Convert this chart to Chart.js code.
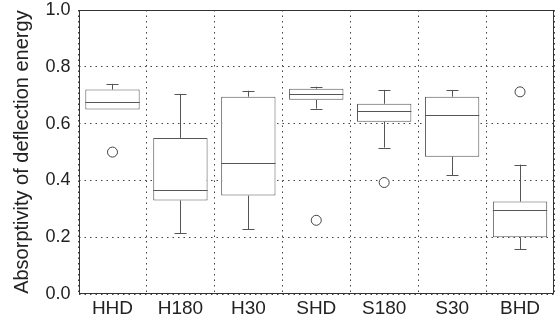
<!DOCTYPE html>
<html>
<head>
<meta charset="utf-8">
<script src="https://cdn.jsdelivr.net/npm/chart.js@4.4.1/dist/chart.umd.min.js"></script>
<style>
  html, body { margin: 0; padding: 0; background: #fff; }
  #wrap { width: 560px; height: 324px; }
</style>
</head>
<body>
<div id="wrap"><canvas id="chart"></canvas></div>
<script>
// box plot values
const groups = ['HHD', 'H180', 'H30', 'SHD', 'S180', 'S30', 'BHD'];
const whiskerLow = [0.65, 0.214, 0.228, 0.653, 0.516, 0.418, 0.158];
const q1 = [0.65, 0.33, 0.347, 0.684, 0.607, 0.484, 0.20];
const median = [0.677, 0.365, 0.463, 0.705, 0.645, 0.632, 0.295];
const q3 = [0.72, 0.55, 0.695, 0.723, 0.67, 0.695, 0.326];
const whiskerHigh = [0.74, 0.705, 0.716, 0.73, 0.719, 0.719, 0.456];
const outliers = [0.50, null, null, 0.26, 0.393, null, 0.712];
const yTicks = [0, 0.2, 0.4, 0.6, 0.8, 1.0];

const lineColor = '#555';
const textColor = '#222';
const family = 'Liberation Sans, Arial, sans-serif';

// whiskers, caps and median lines, placed with the chart's own scales
const boxExtras = {
  id: 'boxExtras',
  afterDatasetsDraw(chart) {
    const ctx = chart.ctx;
    const y = chart.scales.y;
    const bars = chart.getDatasetMeta(0).data;
    ctx.save();
    ctx.strokeStyle = lineColor;
    ctx.lineWidth = 1;
    bars.forEach((bar, i) => {
      const cx = Math.round(bar.x) + 0.5;
      const half = bar.width / 2;
      const cap = 6;
      const yLo = y.getPixelForValue(whiskerLow[i]);
      const yQ1 = y.getPixelForValue(q1[i]);
      const yQ3 = y.getPixelForValue(q3[i]);
      const yHi = y.getPixelForValue(whiskerHigh[i]);
      const yMed = Math.round(y.getPixelForValue(median[i])) + 0.5;
      ctx.beginPath();
      if (whiskerLow[i] < q1[i]) {
        ctx.moveTo(cx, yQ1); ctx.lineTo(cx, yLo);
        ctx.moveTo(cx - cap, Math.round(yLo) + 0.5); ctx.lineTo(cx + cap, Math.round(yLo) + 0.5);
      }
      if (whiskerHigh[i] > q3[i]) {
        ctx.moveTo(cx, yQ3); ctx.lineTo(cx, yHi);
        ctx.moveTo(cx - cap, Math.round(yHi) + 0.5); ctx.lineTo(cx + cap, Math.round(yHi) + 0.5);
      }
      ctx.moveTo(bar.x - half, yMed); ctx.lineTo(bar.x + half, yMed);
      ctx.stroke();
    });
    ctx.restore();
  },
  afterDraw(chart) {
    const a = chart.chartArea;
    const ctx = chart.ctx;
    ctx.save();
    ctx.strokeStyle = '#333';
    ctx.lineWidth = 1;
    ctx.strokeRect(Math.round(a.left) + 0.5, Math.round(a.top) + 0.5,
      Math.round(a.right - a.left) - 1, Math.round(a.bottom - a.top) - 1);
    ctx.restore();
  }
};

new Chart(document.getElementById('chart'), {
  type: 'bar',
  data: {
    labels: groups,
    datasets: [
      {
        label: 'box',
        data: groups.map((g, i) => [q1[i], q3[i]]),
        backgroundColor: '#fff',
        borderColor: lineColor,
        borderWidth: 1,
        borderSkipped: false,
        categoryPercentage: 1,
        barPercentage: 0.8
      },
      {
        type: 'line',
        label: 'outliers',
        data: outliers,
        showLine: false,
        pointStyle: 'circle',
        pointRadius: 5,
        pointBackgroundColor: '#fff',
        pointBorderColor: '#444',
        pointBorderWidth: 1
      }
    ]
  },
  options: {
    responsive: true,
    maintainAspectRatio: false,
    animation: false,
    layout: { padding: { left: 0, right: 2, top: 10, bottom: 1 } },
    plugins: { legend: { display: false }, tooltip: { enabled: false } },
    scales: {
      x: {
        grid: { color: '#444', lineWidth: 1, drawTicks: false, offset: true },
        border: { display: false, dash: [1.5, 4] },
        ticks: { color: textColor, font: { family: family, size: 19 }, padding: 3 }
      },
      y: {
        min: 0,
        max: 1,
        afterBuildTicks(axis) { axis.ticks = yTicks.map(v => ({ value: v })); },
        afterFit(axis) { axis.paddingTop = 0; axis.paddingBottom = 0; },
        grid: { color: '#444', lineWidth: 1, drawTicks: false },
        border: { display: false, dash: [1.5, 4] },
        ticks: { color: textColor, font: { family: family, size: 18 }, padding: 8, callback: v => v.toFixed(1) },
        title: { display: true, text: 'Absorptivity of deflection energy', color: textColor, font: { family: family, size: 20 }, padding: { top: 10, bottom: 3.5 } }
      }
    }
  },
  plugins: [boxExtras]
});
</script>
</body>
</html>
